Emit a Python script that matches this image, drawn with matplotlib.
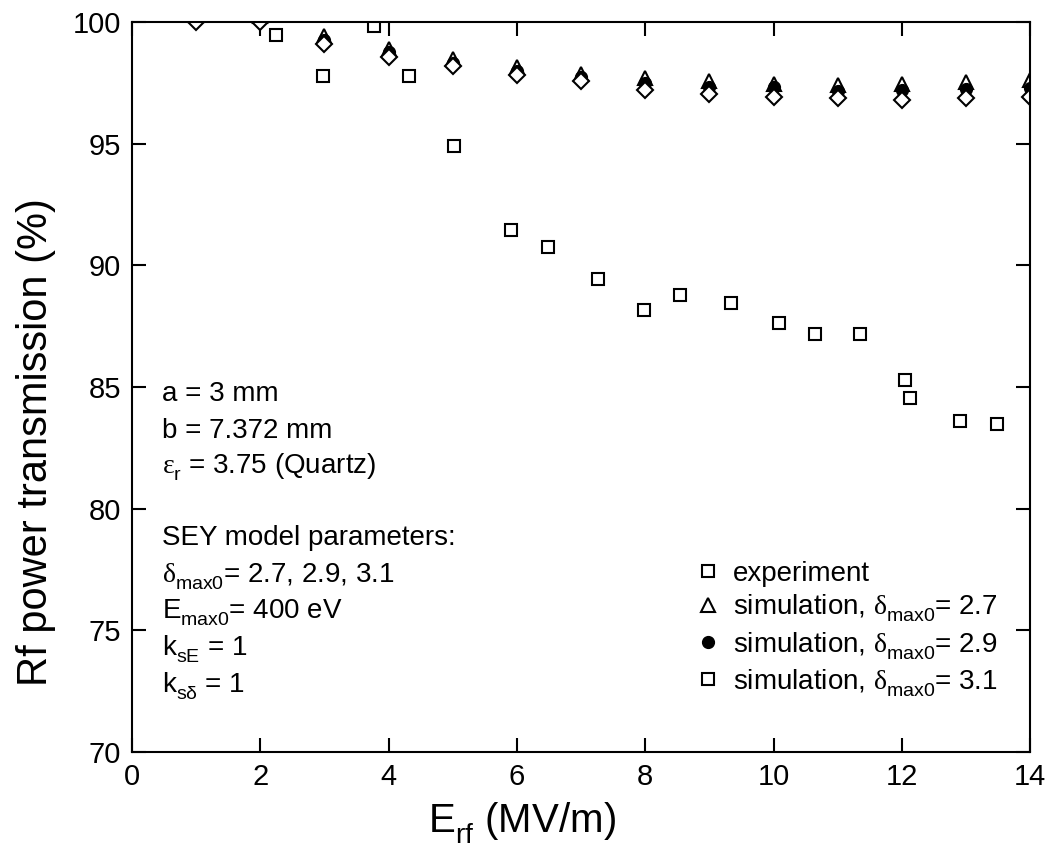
import numpy as np
import matplotlib
matplotlib.use("Agg")
import matplotlib.pyplot as plt
from matplotlib.lines import Line2D
import matplotlib._mathtext as mathtext_internals

plt.rcParams['font.family'] = ['Liberation Sans', 'DejaVu Sans']
plt.rcParams['mathtext.fontset'] = 'custom'
plt.rcParams['mathtext.rm'] = 'Liberation Sans'
plt.rcParams['mathtext.it'] = 'Liberation Serif'
plt.rcParams['mathtext.sf'] = 'Liberation Sans'
# drop subscripts a bit lower, like the original figure
mathtext_internals.FontConstantsBase.subdrop = 0.7
mathtext_internals.FontConstantsBase.sub1 = 0.6

exp_E = [2.25, 2.98, 3.77, 4.32, 5.02, 5.91, 6.49, 7.26, 7.98, 8.54,
         9.33, 10.08, 10.65, 11.35, 12.05, 12.13, 12.91, 13.48]
exp_T = [99.47, 97.78, 99.84, 97.78, 94.92, 91.45, 90.77, 89.45, 88.17, 88.78,
         88.45, 87.65, 87.17, 87.17, 85.27, 84.55, 83.6, 83.5]

sim_E = [1, 2, 3, 4, 5, 6, 7, 8, 9, 10, 11, 12, 13, 14]
sim_27 = [100.3, 100.25, 99.42, 98.9, 98.49, 98.15, 97.88, 97.71, 97.58, 97.47, 97.4, 97.46, 97.53, 97.62]
sim_29 = [100.15, 100.1, 99.25, 98.75, 98.33, 97.98, 97.72, 97.5, 97.32, 97.32, 97.18, 97.2, 97.23, 97.27]
sim_31 = [99.99, 99.98, 99.08, 98.58, 98.18, 97.83, 97.57, 97.2, 97.04, 96.9, 96.86, 96.81, 96.86, 96.9]

fig = plt.figure(figsize=(10.47, 8.65), dpi=100)
ax = fig.add_axes([0.126, 0.1306, 0.858, 0.844])

ax.plot(sim_E, sim_27, linestyle='none', marker='^', ms=9.5, mfc='white', mec='black', mew=1.5)
ax.plot(sim_E, sim_29, linestyle='none', marker='o', ms=8.5, mfc='black', mec='black', mew=1.0)
ax.plot(sim_E, sim_31, linestyle='none', marker='D', ms=8.6, mfc='white', mec='black', mew=1.5)
ax.plot(exp_E, exp_T, linestyle='none', marker='s', ms=8, mfc='white', mec='black', mew=1.5)

ax.set_xlim(0, 14)
ax.set_ylim(70, 100)
ax.set_xticks(np.arange(0, 15, 2))
ax.set_yticks(np.arange(70, 101, 5))
ax.tick_params(direction='in', length=10, width=1.5, top=True, right=True,
               labelsize=21, pad=8)
for sp in ax.spines.values():
    sp.set_linewidth(1.5)

ax.set_xlabel(r'E$_{\mathrm{rf}}$ (MV/m)', fontsize=29)
ax.set_ylabel('Rf power transmission (%)', fontsize=30)
ax.xaxis.set_label_coords(0.434, -0.067)
ax.yaxis.set_label_coords(-0.085, 0.425)

# parameter block
info = ['a = 3 mm',
        'b = 7.372 mm',
        r'$\varepsilon_{\mathrm{r}}$ = 3.75 (Quartz)',
        'SEY model parameters:',
        r'$\delta_{\mathrm{max0}}$= 2.7, 2.9, 3.1',
        r'E$_{\mathrm{max0}}$= 400 eV',
        r'k$_{\mathrm{sE}}$ = 1',
        r'k$_{\mathrm{s\delta}}$ = 1']
baselines = [401, 438, 473, 545, 582, 618, 655, 692]
for s, yb in zip(info, baselines):
    ax.text(0.033, (752 - yb) / 730, s, transform=ax.transAxes, fontsize=20,
            va='baseline', ha='left')

handles = [
    Line2D([], [], linestyle='none', marker='s', ms=8, mfc='white', mec='black', mew=1.5),
    Line2D([], [], linestyle='none', marker='^', ms=9.5, mfc='white', mec='black', mew=1.5),
    Line2D([], [], linestyle='none', marker='o', ms=8.5, mfc='black', mec='black'),
    Line2D([], [], linestyle='none', marker='s', ms=8, mfc='white', mec='black', mew=1.5),
]
labels = ['experiment',
          r'simulation, $\delta_{\mathrm{max0}}$= 2.7',
          r'simulation, $\delta_{\mathrm{max0}}$= 2.9',
          r'simulation, $\delta_{\mathrm{max0}}$= 3.1']
ax.legend(handles, labels, loc='lower right', bbox_to_anchor=(0.985, 0.046),
          frameon=False, fontsize=20, handlelength=0.6, handletextpad=0.6,
          labelspacing=0.2, borderaxespad=0.3)

fig.savefig('out.png', dpi=100)
